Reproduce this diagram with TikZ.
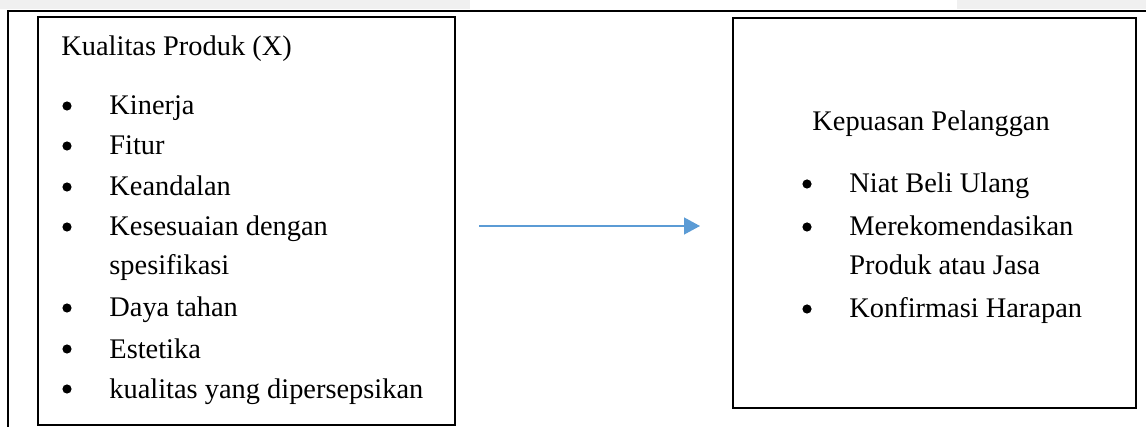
\documentclass[tikz,border=0pt]{standalone}
\usepackage{fontspec}
\setmainfont{Liberation Serif}
\usepackage{tikz}
\usetikzlibrary{arrows.meta, positioning}
\definecolor{panahbiru}{HTML}{5B9BD5}
\definecolor{abu}{HTML}{F0F0F0}

\begin{document}
\begin{tikzpicture}[x=0.5pt, y=-0.5pt,
        kotak/.style={draw, line width=1pt, inner sep=0pt},
        teks/.style={anchor=base west, inner sep=0pt, font=\fontsize{14.2pt}{17pt}\selectfont},
        butir/.style={circle, fill, inner sep=0pt, minimum size=4.6pt},
        panah/.style={draw=panahbiru, line width=0.65pt, -{Triangle[length=8pt, width=8.5pt]}}]
                \useasboundingbox (0,0) rectangle (1146,427);

                % strip atas dan bingkai luar
                \fill[abu] (0,0) rectangle (470,9);
                \fill[abu] (957,0) rectangle (1146,9);
                \draw[line width=1.3pt] (8,427) -- (8,11) -- (1146,11);

                % kotak variabel
                \node[kotak, minimum width=208.5pt, minimum height=204pt] (kualitas) at (246.5,221) {};
                \node[kotak, minimum width=201.5pt, minimum height=195pt] (kepuasan) at (934.5,213) {};

                % kotak kiri
                \node[teks] (judulx) at (61,56) {Kualitas Produk (X)};
                \foreach \y [count=\i] in {115,155,196,236,317,358,398}
                    \node[butir] (bx\i) at (67,\y-9) {};
                \node[teks] (x1) at (109,115) {Kinerja};
                \node[teks] (x2) at (109,155) {Fitur};
                \node[teks] (x3) at (109,196) {Keandalan};
                \node[teks] (x4) at (109,236) {Kesesuaian dengan};
                \node[teks] (x4b) at (109,275) {spesifikasi};
                \node[teks] (x5) at (109,317) {Daya tahan};
                \node[teks] (x6) at (109,358) {Estetika};
                \node[teks] (x7) at (109,398) {kualitas yang dipersepsikan};

                % kotak kanan
                \node[teks] (juduly) at (812,131) {Kepuasan Pelanggan};
                \foreach \y [count=\i] in {193,236,318}
                    \node[butir] (by\i) at (807,\y-9) {};
                \node[teks] (y1) at (849,193) {Niat Beli Ulang};
                \node[teks] (y2) at (849,236) {Merekomendasikan};
                \node[teks] (y2b) at (849,275) {Produk atau Jasa};
                \node[teks] (y3) at (849,318) {Konfirmasi Harapan};

                % panah pengaruh
                \coordinate (mulai) at (479,226);
                \coordinate (ujung) at (700,226);
                \draw[panah] (mulai) -- (ujung);
            \end{tikzpicture}
\end{document}
